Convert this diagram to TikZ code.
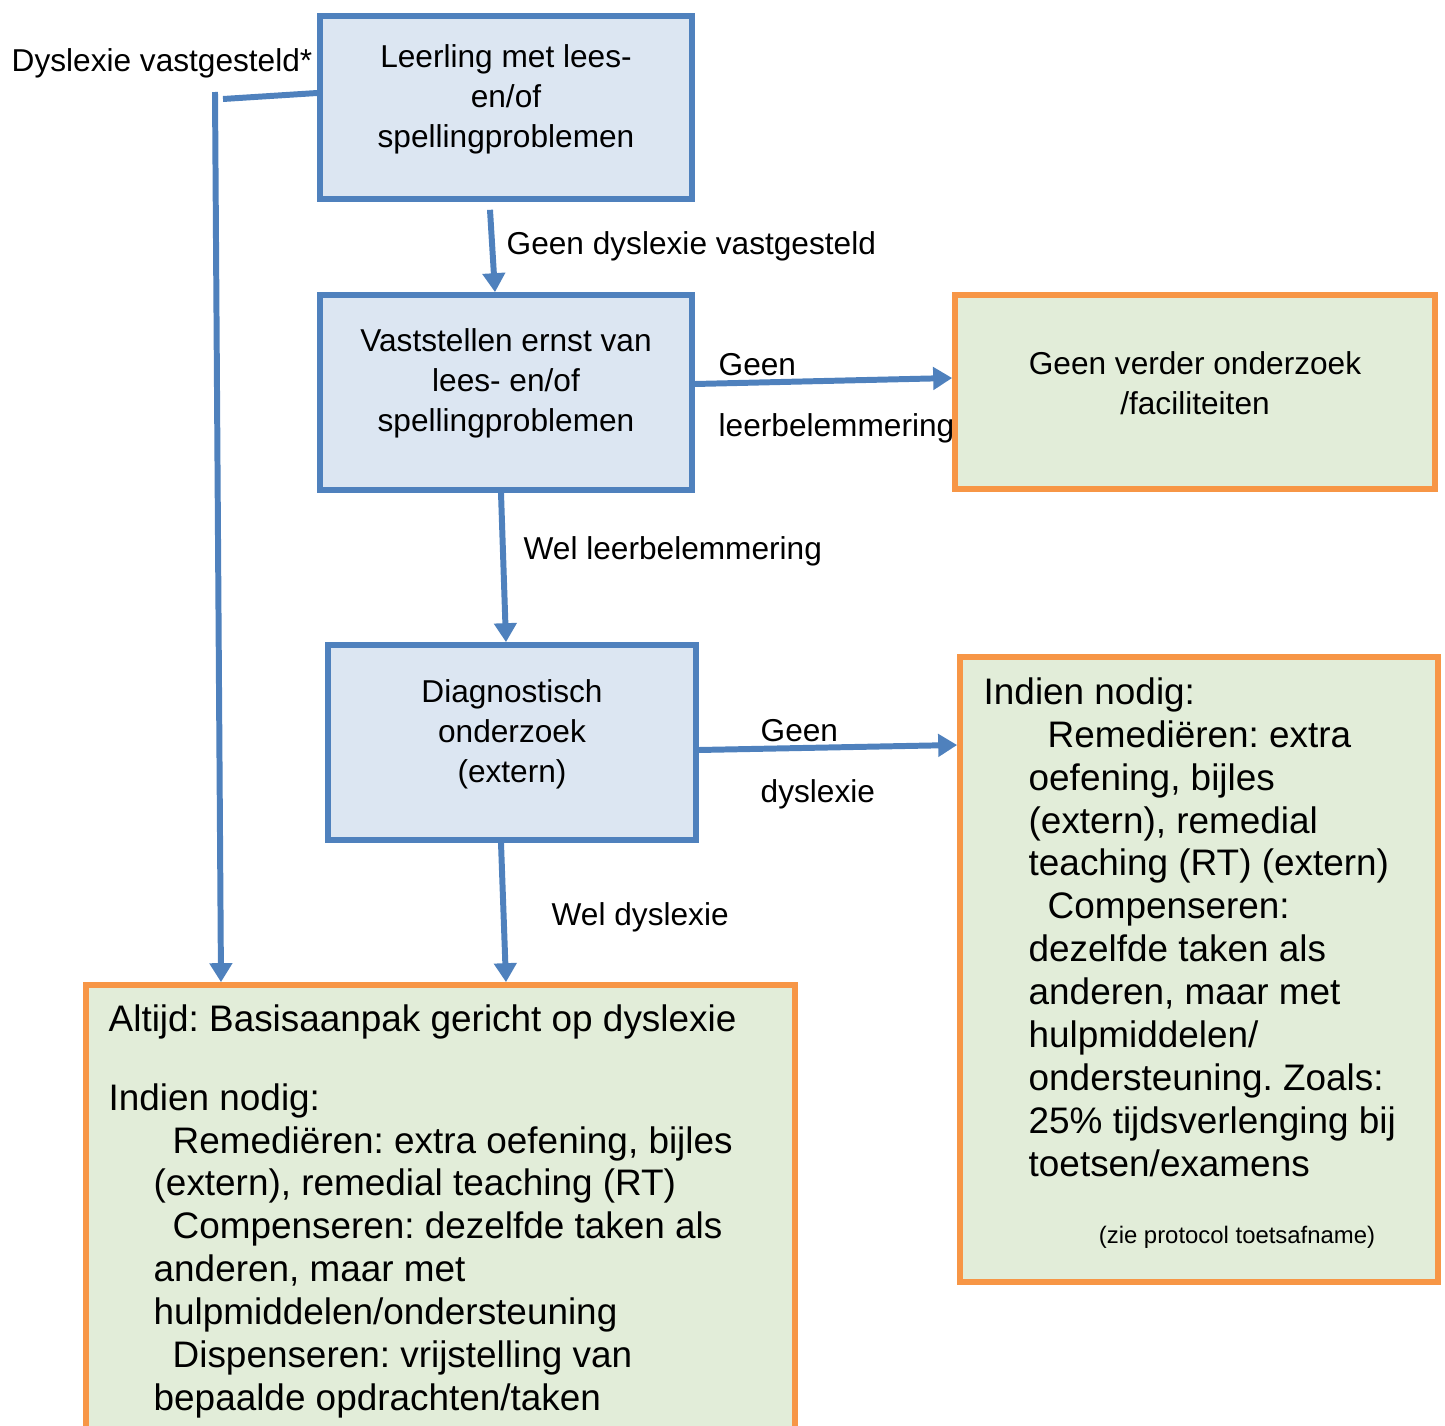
\documentclass[tikz,border=0pt]{standalone}
\usepackage{fontspec}
\setmainfont{Liberation Sans}
\frenchspacing
\usetikzlibrary{arrows.meta}
\definecolor{lijnblauw}{RGB}{79,129,189}
\definecolor{vakblauw}{RGB}{220,230,242}
\definecolor{vakoranje}{RGB}{247,150,70}
\definecolor{vakgroen}{RGB}{226,237,217}

\begin{document}
\begin{tikzpicture}[
  blauwvak/.style={draw=lijnblauw, fill=vakblauw, line width=1.6pt, inner sep=0pt},
  groenvak/.style={draw=vakoranje, fill=vakgroen, line width=1.6pt, inner sep=0pt},
  vaktekst/.style={align=center, inner sep=0pt, font=\fontsize{9pt}{11.4pt}\selectfont},
  lijsttekst/.style={align=left, inner sep=0pt, anchor=north west, font=\fontsize{10.5pt}{12.2pt}\selectfont},
  pijltekst/.style={anchor=west, inner sep=0pt, align=left, font=\fontsize{9pt}{17.4pt}\selectfont},
  pijl/.style={lijnblauw, line width=1.7pt, -{Triangle[length=0.19cm,width=0.22cm]}},
  lijn/.style={lijnblauw, line width=1.7pt}
]
\useasboundingbox (0,0) rectangle (14.45,-14.26);
\clip (0,0) rectangle (14.45,-14.26);

% blauwe vakken
\node[blauwvak, minimum width=3.72cm, minimum height=1.83cm] (leerling) at (5.06,-1.075) {};
\node[blauwvak, minimum width=3.72cm, minimum height=1.95cm] (vast) at (5.06,-3.925) {};
\node[blauwvak, minimum width=3.68cm, minimum height=1.95cm] (diag) at (5.12,-7.425) {};
\node[vaktekst] (leerlingtxt) at ([yshift=0.085cm]leerling.center) {Leerling met lees-\\en/of\\spellingproblemen};
\node[vaktekst] (vasttxt) at ([yshift=0.095cm]vast.center) {Vaststellen ernst van\\lees- en/of\\spellingproblemen};
\node[vaktekst] (diagtxt) at ([yshift=0.085cm]diag.center) {Diagnostisch\\onderzoek\\(extern)};

% labels bij de pijlen
\node[vaktekst] (vastlabel) at (1.62,-0.63) {Dyslexie vastgesteld*};
\node[pijltekst] (geenvast) at (5.06,-2.46) {Geen dyslexie vastgesteld};
\node[pijltekst] (geenleer) at (7.18,-3.985) {Geen\\leerbelemmering};
\node[pijltekst] (welleer) at (5.23,-5.51) {Wel leerbelemmering};
\node[pijltekst] (geendys) at (7.60,-7.645) {Geen\\dyslexie};
\node[pijltekst] (weldys) at (5.51,-9.17) {Wel dyslexie};

% groene vakken
\node[groenvak, minimum width=4.80cm, minimum height=1.94cm] (verder) at (11.95,-3.92) {};
\node[vaktekst] (verdertxt) at ([yshift=0.085cm]verder.center) {Geen verder onderzoek\\/faciliteiten};
\node[groenvak, minimum width=4.78cm, minimum height=6.25cm] (indien) at (11.99,-9.695) {};
\node[lijsttekst] (indientxt) at (9.83,-6.77) {Indien nodig:\\
  \hspace*{0.64cm}Remediëren: extra\\
  \hspace*{0.45cm}oefening, bijles\\
  \hspace*{0.45cm}(extern), remedial\\
  \hspace*{0.45cm}teaching (RT) (extern)\\
  \hspace*{0.64cm}Compenseren:\\
  \hspace*{0.45cm}dezelfde taken als\\
  \hspace*{0.45cm}anderen, maar met\\
  \hspace*{0.45cm}hulpmiddelen/\\
  \hspace*{0.45cm}ondersteuning. Zoals:\\
  \hspace*{0.45cm}25\% tijdsverlenging bij\\
  \hspace*{0.45cm}toetsen/examens};
\node[inner sep=0pt, font=\fontsize{6.8pt}{8pt}\selectfont] (protocol) at (12.37,-12.37) {(zie protocol toetsafname)};
\node[groenvak, minimum width=7.09cm, minimum height=4.6cm] (basis) at (4.405,-12.15) {};
\node[lijsttekst] (basistxt) at (1.08,-10.04) {Altijd: Basisaanpak gericht op dyslexie\\[10.2pt]
  Indien nodig:\\
  \hspace*{0.64cm}Remediëren: extra oefening, bijles\\
  \hspace*{0.45cm}(extern), remedial teaching (RT)\\
  \hspace*{0.64cm}Compenseren: dezelfde taken als\\
  \hspace*{0.45cm}anderen, maar met\\
  \hspace*{0.45cm}hulpmiddelen/ondersteuning\\
  \hspace*{0.64cm}Dispenseren: vrijstelling van\\
  \hspace*{0.45cm}bepaalde opdrachten/taken};

% pijlen
\coordinate (knik) at (2.23,-0.99);
\coordinate (vanaf) at (2.15,-0.92);
\draw[lijn] ([yshift=0.145cm]leerling.west) -- (knik);
\draw[pijl] (vanaf) -- ([xshift=-2.195cm]basis.north);
\draw[pijl] ([shift={(-0.16,-0.08)}]leerling.south) -- ([xshift=-0.11cm]vast.north);
\draw[pijl] ([xshift=-0.05cm]vast.south) -- ([xshift=-0.06cm]diag.north);
\draw[pijl] ([xshift=-0.11cm]diag.south) -- ([xshift=0.655cm]basis.north);
\draw[pijl] ([yshift=0.085cm]vast.east) -- ([yshift=0.14cm]verder.west);
\draw[pijl] ([yshift=-0.075cm]diag.east) -- ([yshift=2.245cm]indien.west);
\end{tikzpicture}
\end{document}
